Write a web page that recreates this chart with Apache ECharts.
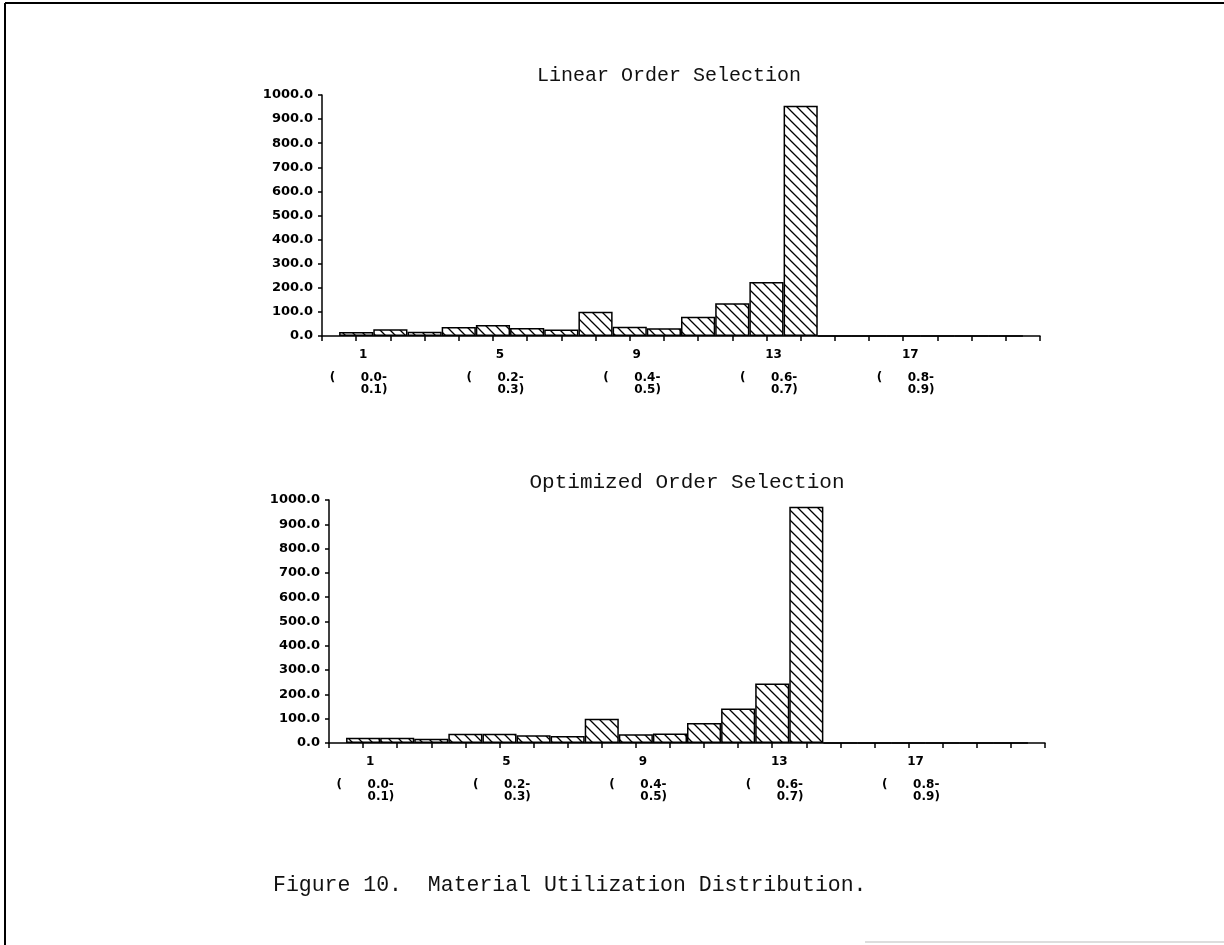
<!DOCTYPE html>
<html>
<head>
<meta charset="utf-8">
<title>Material Utilization Distribution</title>
<script src="https://cdn.jsdelivr.net/npm/echarts@6/dist/echarts.min.js"></script>
<style>
  html, body { margin: 0; padding: 0; background: #fff; }
  #chart { width: 1224px; height: 945px; }
</style>
</head>
<body>
<div id="chart"></div>
<script>
// bins 1..20 (each bin is 0.05 of utilization)
const bins = [1, 2, 3, 4, 5, 6, 7, 8, 9, 10, 11, 12, 13, 14, 15, 16, 17, 18, 19, 20]
const linearValues = [17, 28, 18, 37, 46, 33, 27, 101, 38, 32, 80, 136, 224, 955, 0, 0, 0, 0, 0, 0]
const optimizedValues = [22, 22, 18, 38, 38, 32, 29, 100, 36, 39, 82, 142, 245, 972, 0, 0, 0, 0, 0, 0]

// labelled bins and their range text
const labelBins = [1, 5, 9, 13, 17]
const rangeTop = ['0.0-', '0.2-', '0.4-', '0.6-', '0.8-']
const rangeBottom = ['0.1)', '0.3)', '0.5)', '0.7)', '0.9)']

const titles = ['Linear Order Selection', 'Optimized Order Selection']
const caption = 'Figure 10.  Material Utilization Distribution.'

// diagonal hatch fill like the plotter output
function hatchPattern() {
  const size = 10
  const c = document.createElement('canvas')
  c.width = size
  c.height = size
  const g = c.getContext('2d')
  g.fillStyle = '#fff'
  g.fillRect(0, 0, size, size)
  g.strokeStyle = '#000'
  g.lineWidth = 1.3
  g.beginPath()
  g.moveTo(-2, -2)
  g.lineTo(size + 2, size + 2)
  g.moveTo(-2, size - 2)
  g.lineTo(2, size + 2)
  g.moveTo(size - 2, -2)
  g.lineTo(size + 2, 2)
  g.stroke()
  return c
}
const hatch = { image: hatchPattern(), repeat: 'repeat' }

const labelFont = 'DejaVu Sans'

function xAxisFor(gridIndex) {
  return {
    gridIndex: gridIndex,
    type: 'value',
    min: 0,
    max: 21,
    interval: 1,
    axisLine: { lineStyle: { color: '#000', width: 1.5 } },
    axisTick: { length: 5, lineStyle: { color: '#000', width: 1.5 } },
    splitLine: { show: false },
    axisLabel: {
      margin: 2,
      padding: [0, 0, 0, 14],
      formatter: function (v) {
        const i = labelBins.indexOf(v)
        if (i < 0) return ''
        return '{n|' + v + '}\n{p|(}{v|' + rangeTop[i] + '}\n{p|}{v|' + rangeBottom[i] + '}'
      },
      rich: {
        n: { fontFamily: labelFont, fontWeight: 'bold', fontSize: 12, color: '#000', lineHeight: 34 },
        p: { fontFamily: labelFont, fontWeight: 'bold', fontSize: 12, color: '#000', width: 31, lineHeight: 12, align: 'left' },
        v: { fontFamily: labelFont, fontWeight: 'bold', fontSize: 12, color: '#000', width: 36, lineHeight: 12, align: 'left' }
      }
    }
  }
}

function yAxisFor(gridIndex) {
  return {
    gridIndex: gridIndex,
    type: 'value',
    min: 0,
    max: 1000,
    interval: 100,
    axisLine: { show: true, lineStyle: { color: '#000', width: 1.5 } },
    axisTick: { show: true, length: 4, lineStyle: { color: '#000', width: 1.5 } },
    splitLine: { show: false },
    axisLabel: {
      margin: 9,
      fontFamily: labelFont,
      fontWeight: 'bold',
      fontSize: 13,
      color: '#000',
      formatter: (v) => v.toFixed(1)
    }
  }
}

function barSeries(gridIndex, values) {
  return {
    type: 'bar',
    xAxisIndex: gridIndex,
    yAxisIndex: gridIndex,
    barWidth: '100%',
    data: bins.map((b, i) => [b, values[i]]),
    itemStyle: { color: hatch, borderColor: '#000', borderWidth: 1.5 },
    silent: true
  }
}

const titleStyle = { fontFamily: 'Liberation Mono', fontWeight: 'normal', color: '#111' }

const option = {
  animation: false,
  backgroundColor: '#fff',
  title: [
    { text: titles[0], left: 664, top: 61, textAlign: 'center', textStyle: { ...titleStyle, fontSize: 20 } },
    { text: titles[1], left: 682, top: 467, textAlign: 'center', textStyle: { ...titleStyle, fontSize: 21 } },
    { text: caption, left: 268, top: 869, textStyle: { ...titleStyle, fontSize: 21.5 } }
  ],
  grid: [
    { left: 322, top: 95, width: 718, height: 241 },
    { left: 329, top: 500, width: 716, height: 243 }
  ],
  xAxis: [xAxisFor(0), xAxisFor(1)],
  yAxis: [yAxisFor(0), yAxisFor(1)],
  series: [barSeries(0, linearValues), barSeries(1, optimizedValues)],
  // page frame from the scanned sheet
  graphic: [
    { type: 'line', shape: { x1: 5, y1: 3, x2: 1224, y2: 3 }, style: { stroke: '#000', lineWidth: 2 } },
    { type: 'line', shape: { x1: 5, y1: 3, x2: 5, y2: 945 }, style: { stroke: '#000', lineWidth: 2 } },
    { type: 'line', shape: { x1: 865, y1: 942, x2: 1224, y2: 942 }, style: { stroke: '#bbb', lineWidth: 1 } }
  ]
}

const chart = echarts.init(document.getElementById('chart'))
chart.setOption(option)
</script>
</body>
</html>
